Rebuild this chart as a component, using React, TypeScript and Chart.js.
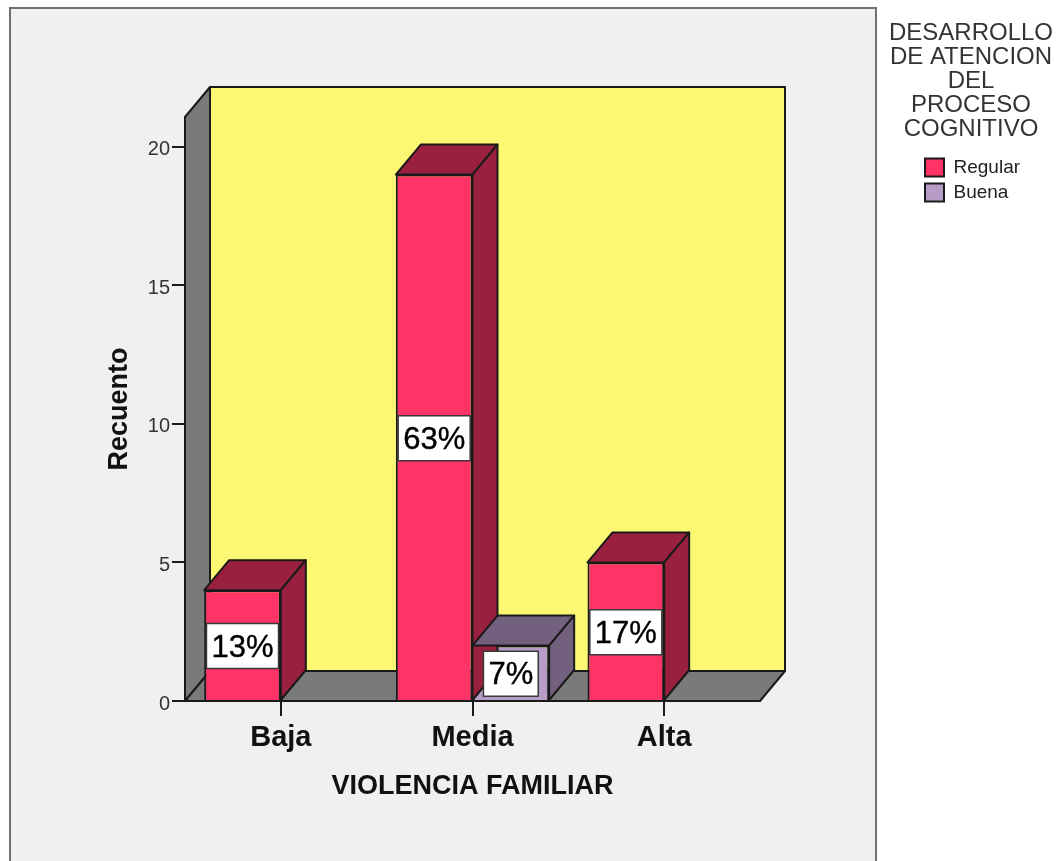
import React, { useEffect, useRef } from "react";
import { Chart, registerables } from "chart.js";

Chart.register(...registerables);

const categories = ["Baja", "Media", "Alta"];
const regularValues = [4, 19, 5];
const buenaValues = [null, 2, null];
const regularLabels = ["13%", "63%", "17%"];
const buenaLabels = [null, "7%", null];
const yTicks = [0, 5, 10, 15, 20];
const legendTitle = ["DESARROLLO", "DE ATENCION", "DEL", "PROCESO", "COGNITIVO"];

const FONT = "'Liberation Sans', Arial, sans-serif";
const DX = 25;
const DY = -30;
const LINE = "#1a1a1a";

function poly(ctx: CanvasRenderingContext2D, pts: number[][], fill: string) {
  ctx.beginPath();
  pts.forEach((p, i) => (i ? ctx.lineTo(p[0], p[1]) : ctx.moveTo(p[0], p[1])));
  ctx.closePath();
  ctx.fillStyle = fill;
  ctx.fill();
  ctx.lineWidth = 2;
  ctx.strokeStyle = LINE;
  ctx.lineJoin = "round";
  ctx.stroke();
}

const threeD = {
  id: "threeD",
  beforeDraw(chart: any) {
    const { ctx, legend } = chart;
    ctx.save();
    ctx.fillStyle = "#f0f0f0";
    ctx.fillRect(10, 8, 866, 870);
    ctx.strokeStyle = "#707070";
    ctx.lineWidth = 2;
    ctx.strokeRect(10, 8, 866, 870);
    ctx.restore();
    // Pin the legend beside the panel: centred title over left-aligned items.
    legend.left = 919;
    legend.width = 104;
    legend.right = 1023;
    legend.top = 21;
    legend.bottom = 500;
    legend.draw = function () {
      this._draw();
    };
  },
  beforeDatasetsDraw(chart: any) {
    const { ctx, chartArea: a } = chart;
    const { left: l, right: r, top: t, bottom: b } = a;
    ctx.save();
    poly(ctx, [[l + DX, t + DY], [r + DX, t + DY], [r + DX, b + DY], [l + DX, b + DY]], "#fcf873");
    poly(ctx, [[l, t], [l + DX, t + DY], [l + DX, b + DY], [l, b]], "#7a7a7a");
    poly(ctx, [[l, b], [r, b], [r + DX, b + DY], [l + DX, b + DY]], "#7a7a7a");
    ctx.restore();
  },
  afterDatasetsDraw(chart: any) {
    const { ctx } = chart;
    ctx.save();
    const dark = ["#99203f", "#73607f"];
    chart.data.datasets.forEach((ds: any, di: number) => {
      chart.getDatasetMeta(di).data.forEach((bar: any, i: number) => {
        if (ds.data[i] == null) return;
        const left = bar.x - bar.width / 2;
        const right = bar.x + bar.width / 2;
        poly(ctx, [[left, bar.y], [right, bar.y], [right + DX, bar.y + DY], [left + DX, bar.y + DY]], dark[di]);
        poly(ctx, [[right, bar.y], [right + DX, bar.y + DY], [right + DX, bar.base + DY], [right, bar.base]], dark[di]);
      });
    });
    const labels = [regularLabels, buenaLabels];
    chart.data.datasets.forEach((_: any, di: number) => {
      chart.getDatasetMeta(di).data.forEach((bar: any, i: number) => {
        const text = labels[di][i];
        if (!text) return;
        ctx.font = `31px ${FONT}`;
        const w = ctx.measureText(text).width + 10;
        const h = 45;
        const cy = (bar.y + bar.base) / 2 + 1;
        ctx.fillStyle = "#ffffff";
        ctx.strokeStyle = "#3a3a3a";
        ctx.lineWidth = 1.5;
        ctx.fillRect(bar.x - w / 2, cy - h / 2, w, h);
        ctx.strokeRect(bar.x - w / 2, cy - h / 2, w, h);
        ctx.fillStyle = "#000000";
        ctx.strokeStyle = "#000000";
        ctx.lineWidth = 0.4;
        ctx.textAlign = "center";
        ctx.textBaseline = "middle";
        ctx.fillText(text, bar.x, cy + 2);
        ctx.strokeText(text, bar.x, cy + 2);
      });
    });
    ctx.restore();
  },
};

export default function App() {
  const ref = useRef<HTMLCanvasElement>(null);
  useEffect(() => {
    document.body.style.margin = "0";
    document.body.style.background = "#ffffff";
    const chart = new Chart(ref.current!, {
      type: "bar",
      data: {
        labels: categories,
        datasets: [
          { label: "Regular", data: regularValues, backgroundColor: "#ff3366", borderColor: LINE, borderWidth: 2, categoryPercentage: 0.8, barPercentage: 1 },
          { label: "Buena", data: buenaValues, backgroundColor: "#b89cc8", borderColor: LINE, borderWidth: 2, categoryPercentage: 0.8, barPercentage: 1 },
        ],
      } as any,
      options: {
        responsive: false,
        animation: false,
        layout: { padding: { left: 0, top: 117, right: 298, bottom: 0 } },
        scales: {
          x: {
            grid: { display: true, offset: false, drawOnChartArea: false, drawTicks: true, tickLength: 15, color: LINE, lineWidth: 2 },
            border: { display: true, color: LINE, width: 2 },
            ticks: { color: "#111111", padding: 5, font: { family: FONT, size: 29, weight: "bold" }, maxRotation: 0 },
            title: {
              display: true,
              text: "VIOLENCIA FAMILIAR",
              color: "#111111",
              font: { family: FONT, size: 27, weight: "bold" },
              padding: { top: 0, bottom: 58 },
            },
            afterFit(s: any) { s.height = 160; },
          } as any,
          y: {
            min: 0,
            max: 21.08,
            afterBuildTicks(s: any) { s.ticks = yTicks.map((value) => ({ value })); },
            grid: { display: true, drawOnChartArea: false, drawTicks: true, tickLength: 13, color: LINE, lineWidth: 2 },
            border: { display: true, color: LINE, width: 2 },
            ticks: { color: "#333333", padding: 2, labelOffset: 3, font: { family: FONT, size: 20 } },
            title: {
              display: true,
              text: "Recuento",
              color: "#111111",
              font: { family: FONT, size: 27, weight: "bold" },
              padding: { top: 103, bottom: 0 },
            },
            afterFit(s: any) { s.width = 185; },
          } as any,
        },
        plugins: {
          tooltip: { enabled: false },
          legend: {
            display: true,
            position: "chartArea",
            align: "start",
            title: {
              display: true,
              text: legendTitle,
              color: "#333333",
              font: { family: FONT, size: 24, lineHeight: 1 },
              padding: { top: 0, bottom: 107 },
            },
            labels: {
              color: "#222222",
              font: { family: FONT, size: 19 },
              boxWidth: 19,
              boxHeight: 18,
              padding: 6,
            },
          },
        },
      } as any,
      plugins: [threeD],
    });
    return () => chart.destroy();
  }, []);
  return <canvas ref={ref} width={1058} height={861} style={{ display: "block", width: 1058, height: 861 }} />;
}
